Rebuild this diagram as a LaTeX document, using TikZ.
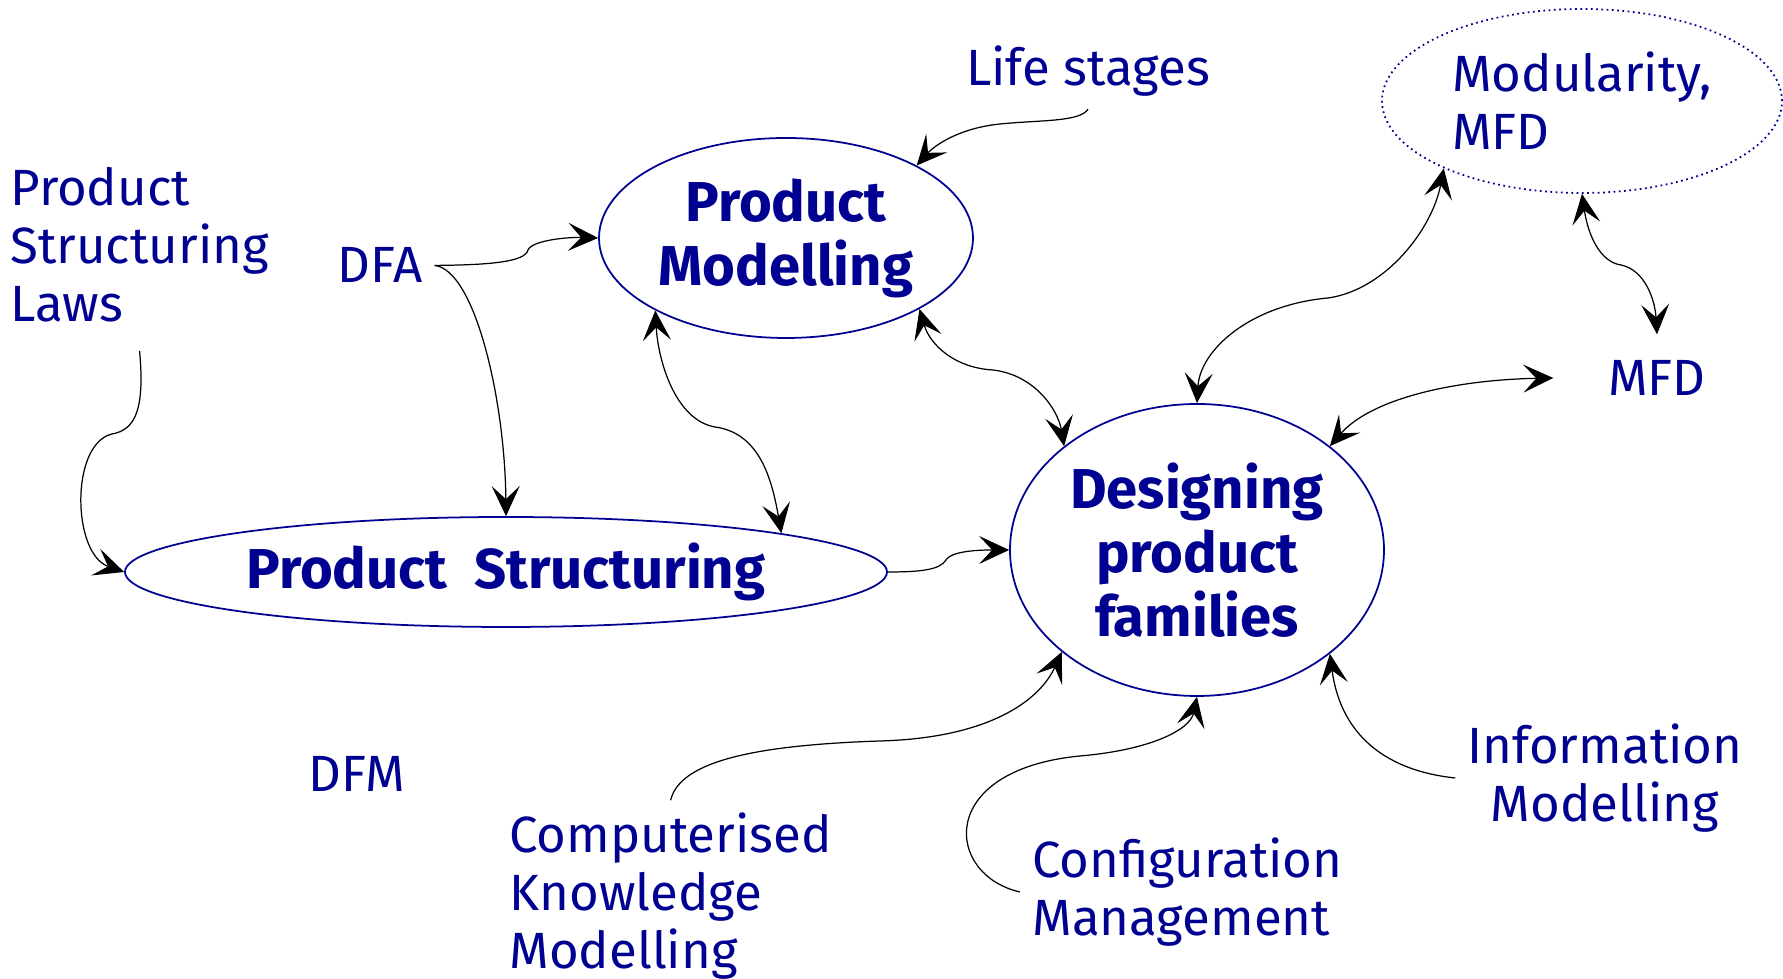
\documentclass[tikz,border=0pt]{standalone}
\usepackage{fontspec}
\setmainfont{Fira Sans}
\usetikzlibrary{arrows.meta,shapes.geometric}
\definecolor{figblue}{RGB}{0,0,145}
\tikzset{
	txt/.style={text=figblue, font=\fontsize{14.5}{16.5}\selectfont},
	bigtxt/.style={text=figblue, font=\fontsize{16}{18.2}\selectfont\bfseries},
	blob/.style={ellipse, draw=figblue, line width=0.5pt, inner sep=0pt},
	arw/.tip={Stealth[length=3mm,width=2.8mm,inset=1.3mm]},
	flow/.style={line width=0.35pt, -arw},
	flowboth/.style={line width=0.35pt, arw-arw}
}

\begin{document}
\begin{tikzpicture}
	%%%%% START %%%%%
	\useasboundingbox (0,0) rectangle (17.83,9.79);
	
	\node[txt, anchor=base] (life) at (10.88,8.93) {Life stages};
	\node[blob, txt, densely dotted, minimum width=4cm, minimum height=1.84cm, align=left] (mod) at (15.82,8.78) {Modularity,\\MFD};
	\node[txt, minimum width=2.06cm, minimum height=0.86cm] (mfd) at (16.57,6.01) {MFD};
	
	\node[txt, anchor=west, align=left] (laws) at (-0.02,7.34) {Product\\Structuring\\Laws};
	\node[txt, anchor=base] (dfa) at (3.80,6.96) {DFA};
	\node[txt, anchor=base] (dfm) at (3.57,1.87) {DFM};
	
	\node[blob, bigtxt, minimum width=3.74cm, minimum height=2cm, align=center] (pm) at (7.86,7.41) {Product\\Modelling};
	\node[blob, bigtxt, minimum width=7.62cm, minimum height=1.1cm] (ps) at (5.06,4.07) {Product~~Structuring};
	\node[blob, bigtxt, minimum width=3.74cm, minimum height=2.92cm, align=center] (dpf) at (11.97,4.29) {Designing\\product\\families};
	
	\node[txt, anchor=west, align=left] (ckm) at (4.97,0.83) {Computerised\\Knowledge\\Modelling};
	\node[txt, anchor=west, align=left] (cm) at (10.20,0.87) {Configuration\\Management};
	\node[txt, align=center] (im) at (16.05,2.01) {Information\\Modelling};
	
	% into product modelling
	\draw[flow] (life.south) .. controls (10.80,8.57) and (10.40,8.59) .. (10.00,8.55) .. controls (9.60,8.51) and (9.35,8.34) .. (pm.29);
	\draw[flow] (dfa.east) .. controls (4.90,7.14) and (5.25,7.17) .. (5.28,7.29) .. controls (5.32,7.39) and (5.70,7.42) .. (pm.west);
	
	% into product structuring
	\draw[flow] (dfa.east) .. controls (4.75,7.09) and (5.05,5.79) .. (ps.north);
	\draw[flowboth] (pm.209) .. controls (6.58,6.19) and (6.75,5.59) .. (7.15,5.52) .. controls (7.60,5.46) and (7.72,4.99) .. (ps.8);
	\draw[flow] ([yshift=-1.6mm]laws.south) .. controls (1.45,5.69) and (1.35,5.49) .. (1.12,5.45) .. controls (0.70,5.35) and (0.72,4.25) .. (ps.west);
	
	% round designing product families
	\draw[flow] (ps.east) .. controls (9.20,4.07) and (9.40,4.09) .. (9.46,4.19) .. controls (9.52,4.29) and (9.85,4.29) .. (dpf.west);
	\draw[flowboth] (pm.-28) .. controls (9.30,6.34) and (9.55,6.11) .. (9.93,6.09) .. controls (10.35,6.04) and (10.58,5.69) .. (dpf.142);
	\draw[flowboth] (mod.206) .. controls (14.32,7.49) and (13.85,6.89) .. (13.28,6.81) .. controls (12.50,6.74) and (12.00,6.29) .. (dpf.north);
	\draw[flowboth] (mod.south) .. controls (15.88,7.44) and (16.00,7.17) .. (16.21,7.14) .. controls (16.45,7.09) and (16.55,6.79) .. (mfd.north);
	\draw[flowboth] (dpf.38) .. controls (13.70,5.79) and (14.50,5.99) .. (mfd.west);
	\draw[flow] (ckm.north) .. controls (6.80,2.19) and (7.60,2.34) .. (8.80,2.38) .. controls (9.90,2.41) and (10.40,2.79) .. (dpf.217);
	\draw[flow] (cm.west) .. controls (9.45,1.04) and (9.35,2.09) .. (10.80,2.23) .. controls (11.50,2.29) and (11.90,2.49) .. (dpf.south);
	\draw[flow] (im.west) .. controls (13.80,2.09) and (13.40,2.49) .. (dpf.-38);
	
	%%%%% END %%%%%
\end{tikzpicture}
\end{document}
